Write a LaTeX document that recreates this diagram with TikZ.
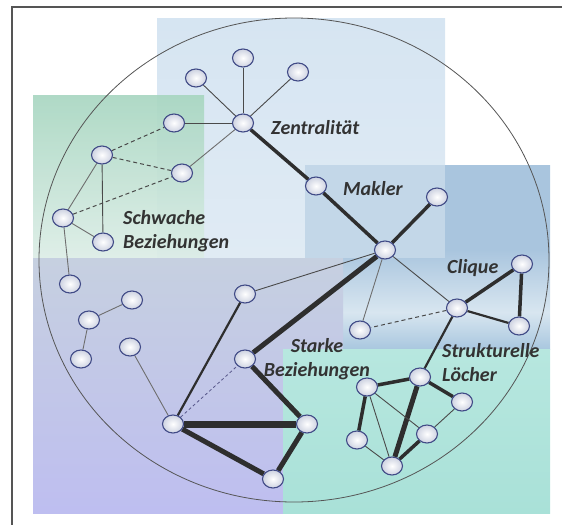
\documentclass[tikz,border=0pt]{standalone}
\usepackage{fontspec}
\setmainfont{Carlito}
\usetikzlibrary{shapes.geometric}
\definecolor{framec}{HTML}{555555}
\definecolor{zblue}{HTML}{D6E5F2}
\definecolor{zblue2}{HTML}{E0EBF4}
\definecolor{gtop}{HTML}{A8D6C1}
\definecolor{gbot}{HTML}{DCEDE6}
\definecolor{mk1}{HTML}{A9C5DE}
\definecolor{mk2}{HTML}{D8E6F0}
\definecolor{mk3}{HTML}{A9C7DF}
\definecolor{mkov}{HTML}{C3D7E8}
\definecolor{ptop}{HTML}{C6D0E0}
\definecolor{pbot}{HTML}{BEBEF0}
\definecolor{ttop}{HTML}{B7E7DF}
\definecolor{tbot}{HTML}{A9E1D8}
\definecolor{nodeline}{HTML}{404A86}
\definecolor{edgedark}{HTML}{2E2E2E}
\definecolor{edgethin}{HTML}{4A4A4A}
\definecolor{edgegray}{HTML}{6E6E6E}
\definecolor{labelc}{HTML}{333333}
\pgfdeclareverticalshading{maklershade}{100bp}{color(0bp)=(mk3); color(25bp)=(mk3); color(35bp)=(mk2); color(52bp)=(mk1); color(75bp)=(mk1); color(100bp)=(mk1)}
\pgfdeclarelayer{bg}
\pgfdeclarelayer{edgelayer}
\pgfsetlayers{bg,edgelayer,main}
\tikzset{
  nd/.style={ellipse, draw=nodeline, line width=1.1pt, minimum width=21pt, minimum height=18pt, inner sep=0pt,
    inner color=white, outer color={rgb,255:red,205;green,210;blue,225}},
  thin edge/.style={draw=edgethin, line width=0.9pt},
  gray edge/.style={draw=edgegray, line width=0.9pt},
  weak edge/.style={draw=edgethin, line width=1pt, dash pattern=on 4pt off 3pt},
  faint dash/.style={draw=edgegray!80!blue, line width=0.8pt, dash pattern=on 3pt off 2.5pt},
  med edge/.style={draw=edgedark, line width=2.2pt},
  strong edge/.style={draw=edgedark, line width=3.5pt},
  heavy edge/.style={draw=edgedark, line width=5pt},
  huge edge/.style={draw=edgedark, line width=7pt},
  lbl/.style={font=\fontsize{20}{24}\selectfont\bfseries\itshape, text=labelc, inner sep=0pt}
}
\begin{document}
\begin{tikzpicture}[x=1pt,y=-1pt]
\useasboundingbox (0,0) rectangle (562,525);
\begin{pgfonlayer}{bg}
  % colored regions
  \shade[top color=zblue, bottom color=zblue2] (157,18) rectangle (445,258);
  \shade[top color=gtop, bottom color=gbot, opacity=0.92] (33,95) rectangle (204,258);
  \shade[shading=maklershade] (305,165) rectangle (550,349);
  \fill[mkov] (305,165) rectangle (445,258);
  \shade[top color=ptop, bottom color=pbot] (33,258) rectangle (343,513);
  \shade[top color=ttop, bottom color=tbot] (283,349) rectangle (550,513);
  % big circle
  \draw[framec, line width=0.8pt] (294,260) ellipse [x radius=255, y radius=242];
  % frame
  \draw[framec, line width=1.6pt] (562,7) -- (12,7) -- (12,525);
\end{pgfonlayer}

% nodes
\node[nd] (z) at (243,123) {};
\node[nd] (zt) at (243,58) {};
\node[nd] (zul) at (196,78) {};
\node[nd] (zur) at (298,72) {};
\node[nd] (zl) at (174,123) {};
\node[nd] (zll) at (182,173) {};
\node[nd] (wt) at (102,155) {};
\node[nd] (wl) at (63,218) {};
\node[nd] (wb) at (103,242) {};
\node[nd] (wd) at (70,284) {};
\node[nd] (m) at (316,186) {};
\node[nd] (h) at (385,250) {};
\node[nd] (hur) at (437,197) {};
\node[nd] (c1) at (457,308) {};
\node[nd] (c2) at (522,264) {};
\node[nd] (c3) at (519,326) {};
\node[nd] (hb) at (360,330) {};
\node[nd] (hl) at (245,294) {};
\node[nd] (s1) at (245,359) {};
\node[nd] (s0) at (173,424) {};
\node[nd] (s2) at (307,424) {};
\node[nd] (s3) at (273,479) {};
\node[nd] (l1) at (132,300) {};
\node[nd] (l2) at (89,320) {};
\node[nd] (l3) at (81,359) {};
\node[nd] (l4) at (130,347) {};
\node[nd] (sl) at (420,377) {};
\node[nd] (sll) at (367,387) {};
\node[nd] (slr) at (462,402) {};
\node[nd] (sbl) at (357,440) {};
\node[nd] (sbm) at (392,466) {};
\node[nd] (srm) at (427,434) {};

\begin{pgfonlayer}{edgelayer}
  % Zentralitaet star
  \draw[thin edge] (z) -- (zt);
  \draw[thin edge] (z) -- (zul);
  \draw[thin edge] (z) -- (zur);
  \draw[thin edge] (z) -- (zl);
  \draw[gray edge] (z) -- (zll);
  \draw[strong edge] (z) -- (m);
  \draw[strong edge] (m) -- (h);
  \draw[strong edge] (h) -- (hur);
  % weak ties
  \draw[weak edge] (wt) -- (zl);
  \draw[weak edge] (wt) -- (zll);
  \draw[weak edge] (wl) -- (zll);
  \draw[gray edge] (wt) -- (wl);
  \draw[thin edge] (wt) -- (wb);
  \draw[gray edge] (wl) -- (wb);
  \draw[gray edge] (wl) -- (wd);
  % left cluster
  \draw[gray edge] (l1) -- (l2);
  \draw[gray edge] (l2) -- (l3);
  \draw[gray edge] (l4) -- (s0);
  % hub
  \draw[thin edge] (h) -- (hl);
  \draw[gray edge] (h) -- (hb);
  \draw[thin edge] (h) -- (c1);
  \draw[heavy edge] (h) -- (s1);
  % clique
  \draw[strong edge] (c1) -- (c2);
  \draw[strong edge] (c2) -- (c3);
  \draw[med edge] (c1) -- (c3);
  \draw[weak edge] (c1) -- (hb);
  \draw[med edge] (c1) -- (sl);
  % strong ties
  \draw[med edge] (s0) -- (hl);
  \draw[faint dash] (s0) -- (s1);
  \draw[huge edge] (s0) -- (s2);
  \draw[heavy edge] (s0) -- (s3);
  \draw[heavy edge] (s1) -- (s2);
  \draw[heavy edge] (s2) -- (s3);
  % structural holes
  \draw[strong edge] (sl) -- (sll);
  \draw[strong edge] (sl) -- (slr);
  \draw[heavy edge] (sl) -- (sbm);
  \draw[strong edge] (sll) -- (sbl);
  \draw[thin edge] (sll) -- (sbm);
  \draw[thin edge] (sll) -- (srm);
  \draw[thin edge] (sbl) -- (sbm);
  \draw[strong edge] (sbm) -- (srm);
  \draw[thin edge] (srm) -- (slr);
\end{pgfonlayer}

% labels
\node[lbl, anchor=west] (tz) at (271,128) {Zentralität};
\node[lbl, anchor=west] (tm) at (343,189) {Makler};
\node[lbl, anchor=west, align=left] (tw) at (123,231) {Schwache\\Beziehungen};
\node[lbl, anchor=west] (tc) at (447,268) {Clique};
\node[lbl, align=center] (ts) at (317,359) {Starke\\Beziehungen};
\node[lbl, anchor=west, align=left] (tl) at (442,363) {Strukturelle\\Löcher};
\end{tikzpicture}
\end{document}
